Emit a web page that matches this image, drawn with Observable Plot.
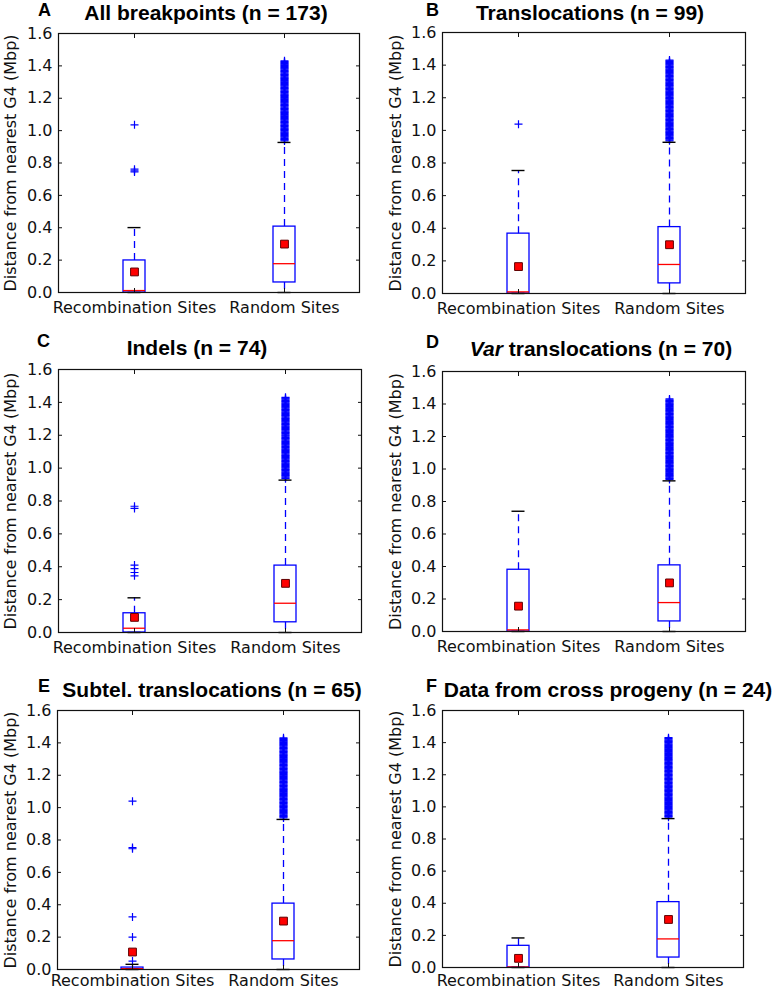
<!DOCTYPE html>
<html><head><meta charset="utf-8">
<script src="https://cdn.jsdelivr.net/npm/d3@7"></script>
<script src="https://cdn.jsdelivr.net/npm/@observablehq/plot@0.6"></script>
<style>
body{margin:0;background:#fff;width:776px;height:990px;overflow:hidden;position:relative;}
.panel{position:absolute;}
.title{position:absolute;font-family:"Liberation Sans",Arial,sans-serif;font-weight:bold;font-size:21px;line-height:21px;white-space:nowrap;transform:translateX(-50%);color:#000;}
.letter{position:absolute;font-family:"Liberation Sans",Arial,sans-serif;font-weight:bold;font-size:18px;line-height:18px;color:#000;}
</style></head><body>
<script>
// ---------- data ----------
const panelLetters = ["A", "B", "C", "D", "E", "F"];
const panelTitles = ["All breakpoints (n = 173)", "Translocations (n = 99)", "Indels (n = 74)",
  "translocations (n = 70)", "Subtel. translocations (n = 65)", "Data from cross progeny (n = 24)"];
const titleItalicPrefix = ["", "", "", "Var", "", ""];
const categories = ["Recombination Sites", "Random Sites"];
const yTicks = [0, 0.2, 0.4, 0.6, 0.8, 1.0, 1.2, 1.4, 1.6];
const yLabel = "Distance from nearest G4 (Mbp)";

// Recombination sites, one value per panel A..F
const recombWhiskerLo = [0, 0, 0, 0, 0, 0];
const recombQ1 = [0, 0, 0, 0, 0, 0];
const recombMedian = [0.012, 0.01, 0.026, 0.01, 0.005, 0.003];
const recombQ3 = [0.198, 0.367, 0.117, 0.38, 0.012, 0.135];
const recombWhiskerHi = [0.401, 0.754, 0.211, 0.74, 0.032, 0.184];
const recombMean = [0.127, 0.165, 0.092, 0.156, 0.108, 0.057];
const recombFliers = [
  [0.745, 0.752, 0.762, 1.036],
  [1.038],
  [0.345, 0.365, 0.388, 0.41, 0.755, 0.768],
  [],
  [0.052, 0.2, 0.325, 0.746, 0.753, 1.04],
  []
];

// Random sites (same in every panel)
const randomWhiskerLo = 0;
const randomQ1 = 0.062;
const randomMedian = 0.178;
const randomQ3 = 0.407;
const randomWhiskerHi = 0.927;
const randomMean = 0.299;
const randomFliers = [0.936,0.941,0.946,0.951,0.956,0.961,0.966,0.971,0.976,0.981,0.986,0.991,0.996,1.001,1.006,1.011,1.016,1.021,1.026,1.031,1.036,1.041,1.046,1.051,1.056,1.061,1.066,1.071,1.076,1.081,1.086,1.091,1.096,1.101,1.106,1.111,1.116,1.121,1.126,1.131,1.136,1.141,1.146,1.151,1.156,1.161,1.166,1.171,1.176,1.181,1.186,1.191,1.196,1.201,1.206,1.211,1.216,1.221,1.226,1.231,1.236,1.241,1.246,1.251,1.256,1.261,1.266,1.271,1.276,1.281,1.286,1.291,1.296,1.301,1.306,1.311,1.316,1.321,1.326,1.331,1.336,1.341,1.346,1.351,1.356,1.361,1.366,1.371,1.376,1.381,1.386,1.391,1.396,1.401,1.406,1.411,1.416,1.421,1.426,1.431];

// ---------- layout (pixels) ----------
const frames = [[58,359,33,292],[442,745,32,293],[58,361,369,632],[442,745,371,631],[57,359,710,969],[442,743,710,967]];
const titlePos = [[206,2],[590,2],[197,337],[601,338],[212,679],[608,679]];
const letterPos = [[38,1],[426,1],[37,332],[426,333],[38,677],[426,677]];
const yLabelX = [10, 395, 10, 395, 10, 395];
const xLabelPad = [9, 9, 9, 9, 5, 7];

const BLUE = "#0000ff", RED = "#ff0000";

panelLetters.forEach((letter, i) => {
  const [fl, fr, ft, fb] = frames[i];
  const col = i % 2 === 0 ? 0 : 388;
  const stats = [
    {cat: categories[0], lo: recombWhiskerLo[i], q1: recombQ1[i], med: recombMedian[i], q3: recombQ3[i], hi: recombWhiskerHi[i], mean: recombMean[i]},
    {cat: categories[1], lo: randomWhiskerLo, q1: randomQ1, med: randomMedian, q3: randomQ3, hi: randomWhiskerHi, mean: randomMean}
  ];
  const fliers = recombFliers[i].map(v => ({cat: categories[0], v}))
    .concat(randomFliers.map(v => ({cat: categories[1], v})));

  const chart = Plot.plot({
    width: 388,
    height: fb - ft + 61,
    marginLeft: fl - col,
    marginRight: col + 388 - fr,
    marginTop: 33,
    marginBottom: 28,
    x: {type: "band", domain: categories, paddingInner: 0.854, paddingOuter: 0.427, align: 0.5},
    y: {domain: [0, 1.6]},
    style: {fontFamily: "DejaVu Sans", fontSize: "16px", background: "transparent", overflow: "visible", color: "black"},
    marks: [
      Plot.ruleX(stats, {x: "cat", y1: "q3", y2: "hi", stroke: BLUE, strokeWidth: 1.3, strokeDasharray: "7,5"}),
      Plot.ruleX(stats, {x: "cat", y1: "q1", y2: "lo", stroke: BLUE, strokeWidth: 1.3, strokeDasharray: "7,5"}),
      Plot.barY(stats, {x: "cat", y1: "q1", y2: "q3", fill: "none", stroke: BLUE, strokeWidth: 1.3}),
      Plot.tickY(stats, {x: "cat", y: "med", stroke: RED, strokeWidth: 1.3}),
      Plot.dot(fliers, {x: "cat", y: "v", symbol: "plus", stroke: BLUE, strokeWidth: 1.2, r: 2.7}),
      Plot.tickY(stats, {x: "cat", y: "hi", stroke: "black", strokeWidth: 1.4, inset: 4.5}),
      Plot.tickY(stats, {x: "cat", y: "lo", stroke: "black", strokeWidth: 1.4, inset: 4.5}),
      Plot.dot(stats, {x: "cat", y: "mean", symbol: "square", fill: RED, stroke: "#600000", strokeWidth: 1, r: 4.4}),
      Plot.frame({stroke: "#111", strokeWidth: 1.2}),
      Plot.axisY({ticks: yTicks, anchor: "left", tickSize: -4, fill: "none", stroke: "#111"}),
      Plot.axisY({ticks: yTicks, anchor: "right", tickSize: -4, fill: "none", stroke: "#111"}),
      Plot.axisX({anchor: "top", tickSize: -4, fill: "none", stroke: "#111"}),
      Plot.axisX({anchor: "bottom", tickSize: -4, fill: "none", stroke: "#111"}),
      Plot.axisY({ticks: yTicks, anchor: "left", tickSize: 0, tickPadding: 6, tickFormat: d => d.toFixed(1), fontSize: 16, fill: "#111", label: null}),
      Plot.axisX({anchor: "bottom", tickSize: 0, tickPadding: xLabelPad[i], fontSize: 16, fill: "#111", label: null}),
      Plot.text([yLabel], {text: d => d, frameAnchor: "left", dx: yLabelX[i] - fl, rotate: -90, fontSize: 16, textAnchor: "middle", lineAnchor: "middle", fill: "#111"})
    ]
  });
  const wrap = document.createElement("div");
  wrap.className = "panel";
  wrap.style.left = col + "px";
  wrap.style.top = (ft - 33) + "px";
  wrap.appendChild(chart);
  document.body.appendChild(wrap);

  const t = document.createElement("div");
  t.className = "title";
  t.style.left = titlePos[i][0] + "px";
  t.style.top = titlePos[i][1] + "px";
  if (titleItalicPrefix[i]) {
    const it = document.createElement("i");
    it.textContent = titleItalicPrefix[i];
    t.appendChild(it);
    t.appendChild(document.createTextNode(" " + panelTitles[i]));
  } else {
    t.textContent = panelTitles[i];
  }
  document.body.appendChild(t);

  const l = document.createElement("div");
  l.className = "letter";
  l.style.left = letterPos[i][0] + "px";
  l.style.top = letterPos[i][1] + "px";
  l.textContent = letter;
  document.body.appendChild(l);
});
</script>
</body></html>
